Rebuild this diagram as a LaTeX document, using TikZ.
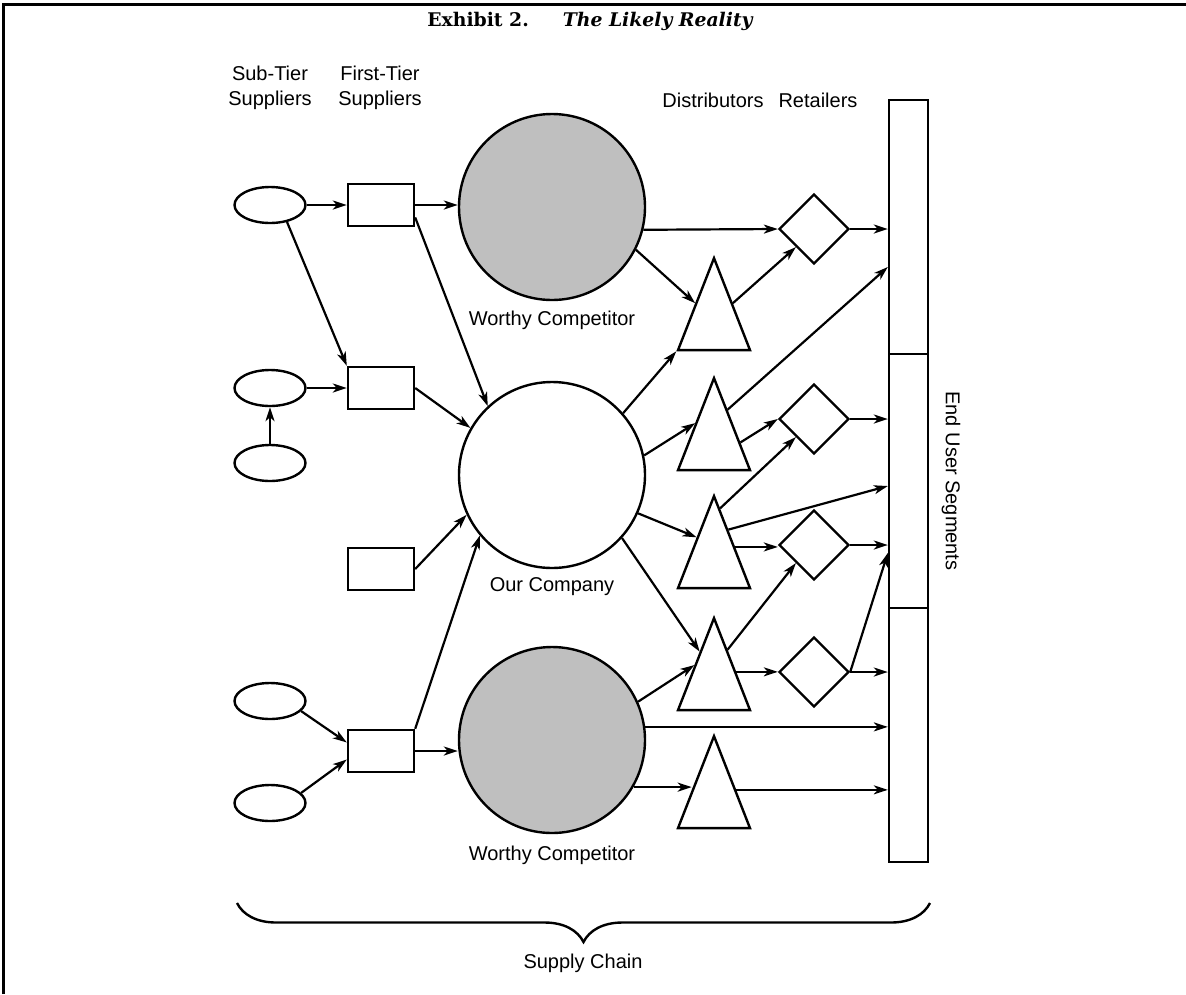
\documentclass[tikz,border=0pt]{standalone}
\usepackage{fontspec}
\setsansfont{Liberation Sans}
\newfontfamily\titlefont{DejaVu Serif}
\usetikzlibrary{arrows.meta,shapes.geometric,decorations.pathreplacing,calc}
\definecolor{rivalgray}{gray}{0.75}
\tikzset{
    supplier/.style={ellipse,draw,line width=2.4pt,minimum width=71pt,minimum height=36pt,inner sep=0pt},
    firsttier/.style={rectangle,draw,line width=2.4pt,minimum width=66pt,minimum height=42pt,inner sep=0pt},
    firm/.style={circle,draw,line width=2.4pt,minimum size=186pt,inner sep=0pt},
    rival/.style={firm,fill=rivalgray},
    distributor/.style={isosceles triangle,isosceles triangle stretches,shape border rotate=90,draw,line width=2.4pt,minimum width=72pt,minimum height=92pt,inner sep=0pt,anchor=apex},
    retailer/.style={diamond,draw,line width=2.4pt,minimum width=70pt,minimum height=70pt,inner sep=0pt},
    segment/.style={rectangle,draw,line width=2.4pt,minimum width=39pt,minimum height=254pt,inner sep=0pt},
    flow/.style={-{Stealth[length=14pt,width=9pt,inset=4pt]},line width=2.2pt},
    lbl/.style={font=\sffamily\fontsize{20}{25}\selectfont,align=center,inner sep=0pt},
}

\begin{document}
\begin{tikzpicture}[x=1pt,y=-1pt]
    \useasboundingbox (0,0) rectangle (1186,994);
    \draw[line width=3pt] (3,994) -- (3,4) -- (1186,4);
    \node (title) at (590,21) {\titlefont\fontsize{18.8}{22}\selectfont\bfseries Exhibit 2.\hspace{34pt}\itshape The Likely Reality};

    % column heads
    \node[lbl] (hsub) at (270,88) {Sub-Tier\\Suppliers};
    \node[lbl] (hfirst) at (380,88) {First-Tier\\Suppliers};
    \node[lbl] (hdist) at (713,100) {Distributors};
    \node[lbl] (hret) at (818,100) {Retailers};

    % suppliers
    \node[supplier] (e1) at (270,205) {};
    \node[supplier] (e2) at (270,388) {};
    \node[supplier] (e3) at (270,463) {};
    \node[supplier] (e4) at (270,701) {};
    \node[supplier] (e5) at (270,803) {};
    \node[firsttier] (r1) at (381,205) {};
    \node[firsttier] (r2) at (381,388) {};
    \node[firsttier] (r3) at (381,569) {};
    \node[firsttier] (r4) at (381,751) {};

    % firms
    \node[rival] (wc1) at (552,207) {};
    \node[firm] (oc) at (552,475) {};
    \node[rival] (wc2) at (552,740) {};
    \node[lbl] (lwc1) at (552,320) {Worthy Competitor};
    \node[lbl] (loc) at (552,587) {Our Company};
    \node[lbl] (lwc2) at (552,855) {Worthy Competitor};

    % distributors and retailers
    \node[distributor] (t1) at (714,255) {};
    \node[distributor] (t2) at (714,375) {};
    \node[distributor] (t3) at (714,493) {};
    \node[distributor] (t4) at (714,615) {};
    \node[distributor] (t5) at (714,733) {};
    \node[retailer] (d1) at (814,229) {};
    \node[retailer] (d2) at (814,419) {};
    \node[retailer] (d3) at (814,545) {};
    \node[retailer] (d4) at (814,672) {};
    \coordinate (t3r) at ($(t3.apex)!.56!(t3.right corner)$);
    \coordinate (t4r) at ($(t4.apex)!.59!(t4.right corner)$);
    \coordinate (t5l) at ($(t5.apex)!.59!(t5.left corner)$);
    \coordinate (t5r) at ($(t5.apex)!.59!(t5.right corner)$);

    % end users
    \node[segment] (s1) at (908.5,227) {};
    \node[segment] (s2) at (908.5,481) {};
    \node[segment] (s3) at (908.5,735) {};
    \node[lbl,rotate=-90] (lend) at (951,481) {End User Segments};

    \draw[flow] (e1) -- (r1);
    \draw[flow] (e1.-45) -- (r2.north west);
    \draw[flow] (e2) -- (r2);
    \draw[flow] (e3) -- (e2);
    \draw[flow] (e4.-18) -- (r4.166);
    \draw[flow] (e5.18) -- (r4.194);
    \draw[flow] (r1) -- (r1 -| wc1.west);
    \draw[flow] (r1.-20) -- (oc.133);
    \draw[flow] (r2.east) -- (oc.150);
    \draw[flow] (r3.east) -- (oc.205);
    \draw[flow] (r4.north east) -- (oc.220);
    \draw[flow] (r4) -- (r4 -| wc2.west);

    \draw[flow] (wc1.-14) -- (d1.west);
    \draw[flow] (wc1.-27) -- (t1.left side);
    \draw[flow] (oc.41) -- (t1.left corner);
    \draw[flow] (oc.12) -- (t2.left side);
    \draw[flow] (oc.-24) -- ($(t3.apex)!.46!(t3.left corner)$);
    \draw[flow] (oc.-42) -- ($(t4.apex)!.38!(t4.left corner)$);
    \draw[flow] (wc2.24) -- ($(t4.apex)!.52!(t4.left corner)$);
    \draw[flow] (wc2.8) -- (wc2.8 -| s3.west);
    \draw[flow] (wc2.-30) -- (wc2.-30 -| t5l);

    \draw[flow] (t1.right side) -- (d1.south west);
    \draw[flow] ($(t2.apex)!.36!(t2.right corner)$) -- ([yshift=-40]s1.west);
    \draw[flow] ($(t2.apex)!.7!(t2.right corner)$) -- (d2.west);
    \draw[flow] ($(t3.apex)!.16!(t3.right corner)$) -- (d2.south west);
    \draw[flow] ($(t3.apex)!.38!(t3.right corner)$) -- ([yshift=-5]s2.west);
    \draw[flow] (t3r) -- (t3r -| d3.west);
    \draw[flow] ($(t4.apex)!.36!(t4.right corner)$) -- (d3.south west);
    \draw[flow] (t4r) -- (t4r -| d4.west);
    \draw[flow] (t5r) -- (t5r -| s3.west);

    \draw[flow] (d1) -- (d1 -| s1.west);
    \draw[flow] (d2) -- (d2 -| s2.west);
    \draw[flow] (d3) -- (d3 -| s2.west);
    \draw[flow] (d4.east) -- ([yshift=-72]s2.west);
    \draw[flow] (d4) -- (d4 -| s3.west);

    % supply chain brace
    \draw[line width=2.4pt,decorate,decoration={brace,mirror,amplitude=39pt}] (237,903) -- (930,903);
    \node[lbl] (lchain) at (583,963) {Supply Chain};
\end{tikzpicture}
\end{document}
